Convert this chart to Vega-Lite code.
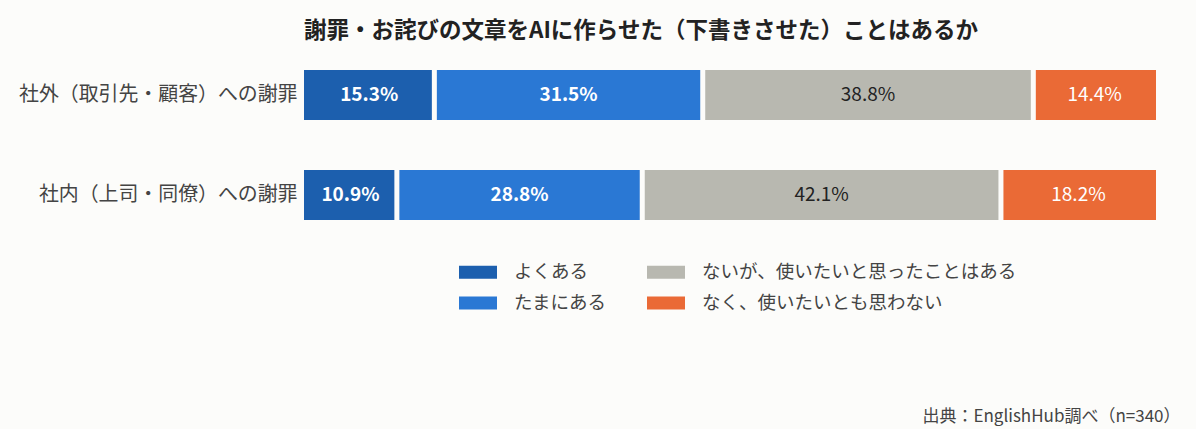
{
  "$schema": "https://vega.github.io/schema/vega-lite/v6.json",
  "autosize": "none",
  "width": 852,
  "height": 200,
  "padding": {"left": 304, "top": 45, "right": 40, "bottom": 184},
  "background": "#fcfcfa",
  "config": {
    "font": "Noto Sans CJK JP",
    "view": {"stroke": null}
  },
  "title": {
    "text": "謝罪・お詫びの文章をAIに作らせた（下書きさせた）ことはあるか",
    "anchor": "start",
    "frame": "group",
    "fontSize": 22.5,
    "fontWeight": "bold",
    "color": "#222222",
    "offset": 3
  },
  "data": {
    "values": [
      {"target": "社外（取引先・顧客）への謝罪", "answer": "よくある", "rank": 1, "share": 0.153},
      {"target": "社外（取引先・顧客）への謝罪", "answer": "たまにある", "rank": 2, "share": 0.315},
      {"target": "社外（取引先・顧客）への謝罪", "answer": "ないが、使いたいと思ったことはある", "rank": 3, "share": 0.388},
      {"target": "社外（取引先・顧客）への謝罪", "answer": "なく、使いたいとも思わない", "rank": 4, "share": 0.144},
      {"target": "社内（上司・同僚）への謝罪", "answer": "よくある", "rank": 1, "share": 0.109},
      {"target": "社内（上司・同僚）への謝罪", "answer": "たまにある", "rank": 2, "share": 0.288},
      {"target": "社内（上司・同僚）への謝罪", "answer": "ないが、使いたいと思ったことはある", "rank": 3, "share": 0.421},
      {"target": "社内（上司・同僚）への謝罪", "answer": "なく、使いたいとも思わない", "rank": 4, "share": 0.182}
    ]
  },
  "encoding": {
    "y": {
      "field": "target",
      "type": "nominal",
      "sort": ["社外（取引先・顧客）への謝罪", "社内（上司・同僚）への謝罪"],
      "scale": {"paddingInner": 0.5, "paddingOuter": 0.25},
      "axis": {
        "title": null,
        "ticks": false,
        "domain": false,
        "labelFontSize": 19.9,
        "labelColor": "#444444",
        "labelPadding": 7,
        "labelLimit": 400
      }
    },
    "x": {
      "field": "share",
      "type": "quantitative",
      "stack": "zero",
      "scale": {"domain": [0, 1]},
      "axis": {
        "grid": false,
        "ticks": false,
        "labels": false,
        "domain": false,
        "title": "出典：EnglishHub調べ（n=340）",
        "titleAnchor": "end",
        "titleAlign": "right",
        "titleX": 876,
        "titleY": 171,
        "titleBaseline": "middle",
        "titleFontSize": 17,
        "titleFontWeight": "normal",
        "titleColor": "#444444"
      }
    },
    "order": {"field": "rank", "type": "quantitative"}
  },
  "layer": [
    {
      "mark": {"type": "bar"},
      "encoding": {
        "color": {
          "field": "answer",
          "type": "nominal",
          "scale": {
            "domain": ["よくある", "たまにある", "ないが、使いたいと思ったことはある", "なく、使いたいとも思わない"],
            "range": ["#1c5fae", "#2a78d4", "#b8b8b0", "#ea6a36"]
          },
          "legend": {
            "title": null,
            "orient": "none",
            "legendX": 155,
            "legendY": 208,
            "columns": 2,
            "columnPadding": 40,
            "rowPadding": 2,
            "padding": 0,
            "symbolType": "M-1,-0.34L1,-0.34L1,0.34L-1,0.34Z",
            "symbolSize": 1444,
            "symbolStrokeWidth": 0,
            "symbolOpacity": 1,
            "labelFontSize": 18.5,
            "labelColor": "#444444",
            "labelOffset": 17,
            "labelLimit": 400
          }
        }
      }
    },
    {
      "mark": {"type": "tick", "color": "#fcfcfa", "thickness": 5, "size": 54},
      "encoding": {
        "x": {"field": "share", "type": "quantitative", "stack": "zero"},
        "opacity": {
          "condition": {"test": "datum.rank <= 3", "value": 1},
          "value": 0
        }
      }
    },
    {
      "mark": {"type": "text", "fontSize": 19, "fontWeight": "bold", "color": "#ffffff"},
      "encoding": {
        "x": {"field": "share", "type": "quantitative", "stack": "zero", "bandPosition": 0.5},
        "text": {"field": "share", "type": "quantitative", "format": ".1%"},
        "opacity": {
          "condition": {"test": "datum.rank <= 2", "value": 1},
          "value": 0
        }
      }
    },
    {
      "mark": {"type": "text", "fontSize": 19, "fontWeight": "normal"},
      "encoding": {
        "x": {"field": "share", "type": "quantitative", "stack": "zero", "bandPosition": 0.5},
        "text": {"field": "share", "type": "quantitative", "format": ".1%"},
        "color": {
          "condition": {"test": "datum.rank === 3", "value": "#222222"},
          "value": "#ffffff"
        },
        "opacity": {
          "condition": {"test": "datum.rank >= 3", "value": 1},
          "value": 0
        }
      }
    }
  ]
}
